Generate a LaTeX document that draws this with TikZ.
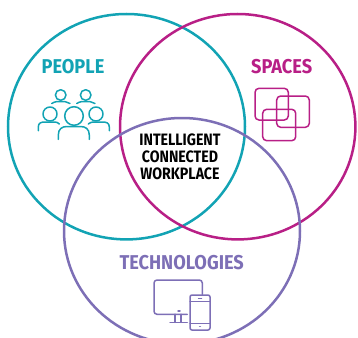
\documentclass[tikz,border=0pt]{standalone}
\usepackage{fontspec}
\setmainfont{Fira Sans}
\definecolor{teal1}{HTML}{12A3B4}
\definecolor{magenta1}{HTML}{B81F86}
\definecolor{purple1}{HTML}{7D6FB6}
\tikzset{
	ring/.style={line width=2.5pt},
	icon/.style={line width=1.5pt, line cap=round, line join=round},
	title/.style={font=\fontsize{20}{20}\selectfont\bfseries\addfontfeatures{FakeStretch=0.91}, inner sep=0pt},
	core/.style={font=\fontsize{16.5}{16.8}\selectfont\bfseries\addfontfeatures{FakeStretch=0.86}, text=black, inner sep=0pt, align=center}
}
\begin{document}
\begin{tikzpicture}[x=1pt,y=-1pt]
	\useasboundingbox (0,0) rectangle (358,337);
	\clip (0,0) rectangle (358,337);

	% rings
	\draw[ring,teal1] (126.5,126.7) ellipse (118.5 and 112.7);
	\draw[ring,magenta1] (237.7,126.7) ellipse (117.7 and 112.7);
	\draw[ring,purple1] (182,231) ellipse (118 and 113);

	% labels
	\node[title,text=teal1] (people) at (73,67) {PEOPLE};
	\node[title,text=magenta1] (spaces) at (281.7,67) {SPACES};
	\node[title,text=purple1] (technologies) at (181.7,263) {TECHNOLOGIES};
	\node[core] (workplace) at (180,157) {INTELLIGENT\\CONNECTED\\WORKPLACE};

	% people icon
	\begin{scope}[icon,teal1]
		\draw (60.7,95) circle (5.3);
		\draw (85.7,95) circle (5.3);
		\draw (50,114) circle (7);
		\draw (96,114) circle (7);
		\draw (74,116) circle (9.3);
		\draw (51.7,103.5) .. controls (55,101.5) and (57,101.5) .. (60.7,101.5) .. controls (64,101.5) and (67,101.5) .. (70,103.5);
		\draw (76.7,103.5) .. controls (80,101.5) and (82,101.5) .. (85.7,101.5) .. controls (89,101.5) and (92,101.5) .. (95,103.5);
		\draw (38.3,130.7) -- (38.3,127) .. controls (38.3,123) and (41,122) .. (45,122) -- (55,122) .. controls (57,122) and (58,123) .. (59.3,124);
		\draw (109.3,130.7) -- (109.3,127) .. controls (109.3,123) and (106.5,122) .. (102.5,122) -- (93,122) .. controls (91,122) and (90,123) .. (88.3,124);
		\draw (58.3,139.3) -- (58.3,135) .. controls (58.3,129) and (62,126.5) .. (67,126.5) -- (80.5,126.5) .. controls (85.5,126.5) and (89.3,129) .. (89.3,135) -- (89.3,139.3);
	\end{scope}

	% spaces icon
	\begin{scope}[icon,magenta1,rounded corners=4pt]
		\draw (255,88.3) rectangle (288.3,120);
		\draw (276.7,96) rectangle (309.3,127.3);
		\draw (262.7,109.3) rectangle (295.7,140.7);
	\end{scope}

	% technologies icon
	\begin{scope}[icon,purple1]
		\draw[rounded corners=3pt] (187.3,314.3) -- (154,314.3) -- (154,280) -- (202.3,280) -- (202.3,294.3);
		\draw (175,314.3) -- (175,322.3) (181,314.3) -- (181,322.3) (170,322.3) -- (187.3,322.3);
		\draw (178,311) -- (180,311);
		\draw[rounded corners=2pt] (190,295) rectangle (210,330);
		\draw (190,301.7) -- (210,301.7) (190,323.3) -- (210,323.3);
		\draw (198.5,298.3) -- (201.5,298.3);
		\draw (199.7,326.5) -- (200.3,326.5);
	\end{scope}
\end{tikzpicture}
\end{document}
